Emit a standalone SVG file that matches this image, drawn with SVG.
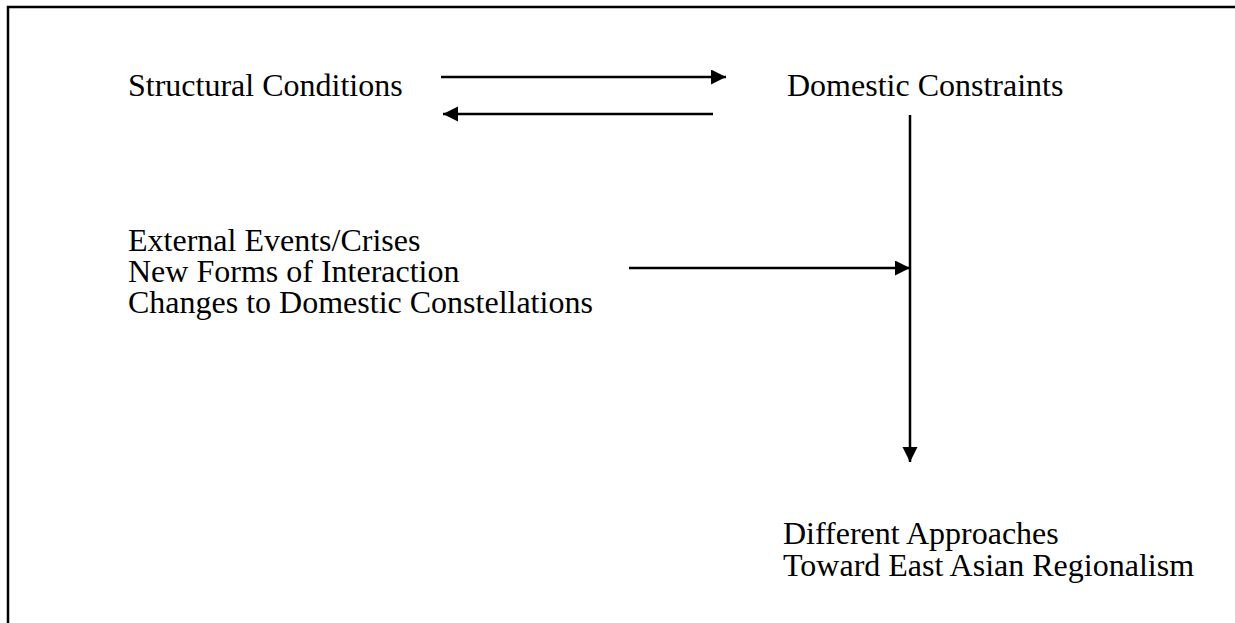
<svg xmlns="http://www.w3.org/2000/svg" width="1235" height="623" viewBox="0 0 1235 623">
<style>
text{font-family:"Liberation Serif","Times New Roman",serif;font-size:32px;fill:#000}
.ln{stroke:#000;stroke-width:2.5;fill:none}
.fr{stroke:#000;stroke-width:2.5;fill:none}
</style>
<defs>
<marker id="ah" markerWidth="16" markerHeight="16" refX="15" refY="7.5" orient="auto" markerUnits="userSpaceOnUse">
<path d="M0,0 L15,7.5 L0,15 Z" fill="#000"/>
</marker>
</defs>
<rect width="1235" height="623" fill="#fff"/>
<path class="fr" d="M8,623 L8,7 L1235,7"/>
<g id="n-structural"><text x="128" y="96">Structural Conditions</text></g>
<g id="n-domestic"><text x="787" y="96">Domestic Constraints</text></g>
<g id="n-events"><text x="128" y="251">External Events/Crises</text><text x="128" y="282">New Forms of Interaction</text><text x="128" y="313">Changes to Domestic Constellations</text></g>
<g id="n-approaches"><text x="783" y="544">Different Approaches</text><text x="783" y="576">Toward East Asian Regionalism</text></g>
<g id="connectors">
<line class="ln" x1="441" y1="77" x2="726" y2="77" marker-end="url(#ah)"/>
<line class="ln" x1="713" y1="114" x2="443" y2="114" marker-end="url(#ah)"/>
<line class="ln" x1="910" y1="115" x2="910" y2="462" marker-end="url(#ah)"/>
<line class="ln" x1="629" y1="268" x2="910" y2="268" marker-end="url(#ah)"/>
</g>
</svg>
